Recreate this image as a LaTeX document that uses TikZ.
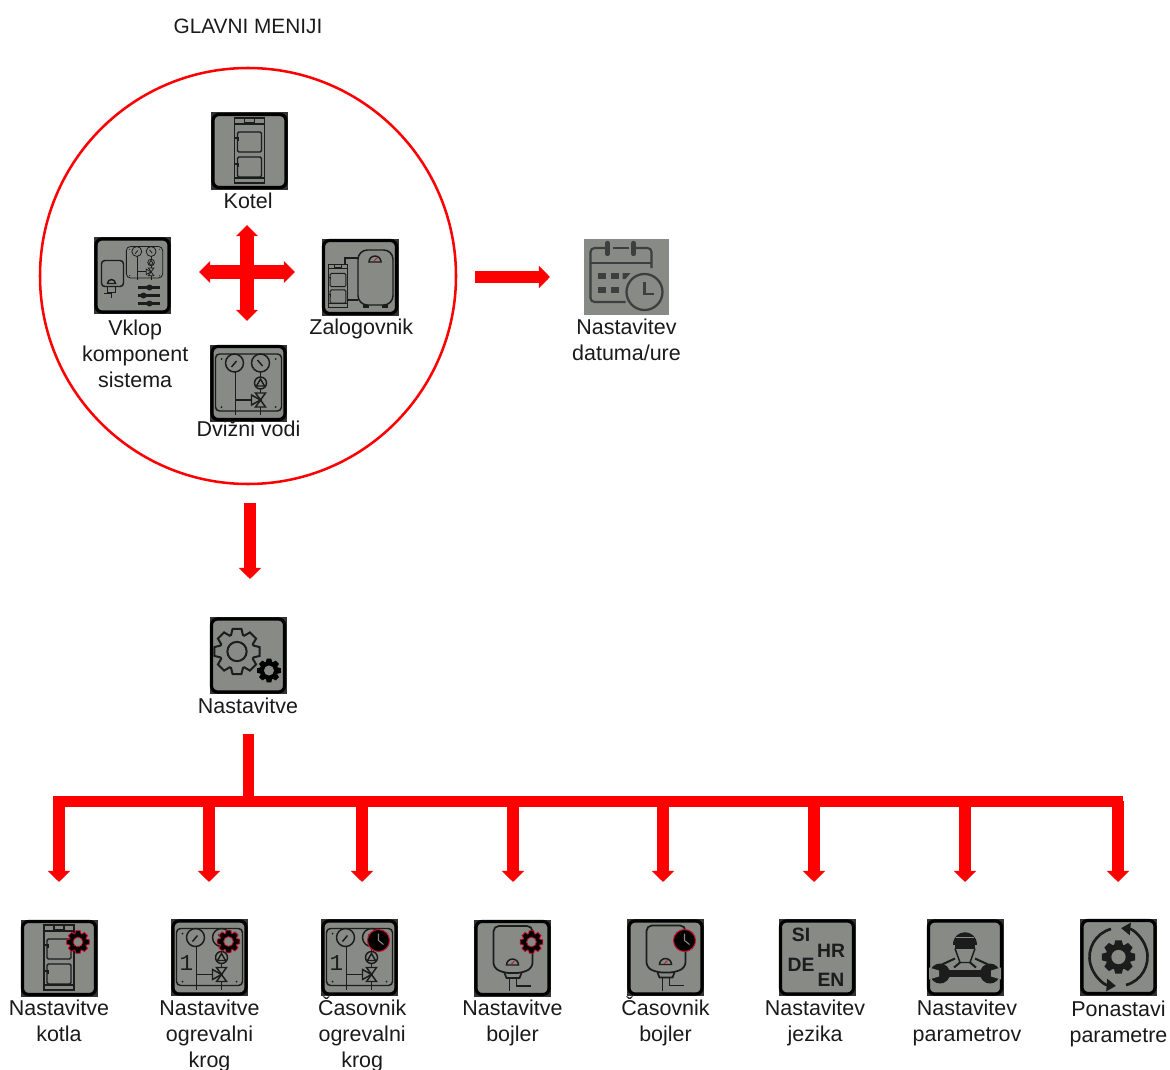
\documentclass[tikz,border=0pt]{standalone}
\usepackage{fontspec}
\setmainfont{Liberation Sans}
\setmonofont{Liberation Mono}
\usepackage{xcolor}
\usepackage{tikz}
\usetikzlibrary{arrows.meta, positioning}
\definecolor{icongrey}{HTML}{888A85}
\definecolor{icondark}{HTML}{1C1C1C}
\definecolor{iconedge}{HTML}{333333}
\definecolor{menured}{HTML}{FF0000}
\definecolor{badgered}{HTML}{C8102E}
\definecolor{lbltext}{HTML}{1A1A1A}
\tikzset{
    iconbox/.style={rectangle, fill=iconedge, minimum size=57.75pt, inner sep=0pt,
      path picture={\draw[draw=black, fill=icongrey, line width=2.4pt, rounded corners=4.5pt]
        ([shift={(1.5pt,1.5pt)}]path picture bounding box.south west) rectangle
        ([shift={(-1.5pt,-1.5pt)}]path picture bounding box.north east);}},
    calbox/.style={rectangle, fill=icongrey, minimum width=63.75pt, minimum height=57pt, inner sep=0pt},
    lbl/.style={align=center, inner sep=0pt, text=lbltext, font=\fontsize{16.1}{19.5}\selectfont, text height=12.4pt},
    lbltwo/.style={lbl, text height=31.9pt},
    lblthree/.style={lbl, text height=51.4pt},
    codetxt/.style={inner sep=0pt, text=icondark, font=\fontsize{14.5}{15}\selectfont\bfseries},
    iconline/.style={draw=icondark},
    blockarrow/.style={draw=menured, line width=8.6pt, -{Triangle[width=16.5pt, length=8.4pt]}},
    crossarrow/.style={draw=menured, line width=10pt, {Triangle[width=16pt, length=8.4pt]}-{Triangle[width=16pt, length=8.4pt]}},
    pics/kotelart/.style={code={
      \draw[iconline] (-15,-33) rectangle (15,32);
      \draw[iconline] (-5,-33) rectangle (5,-28);
      \draw[iconline] (-15,-27) -- (15,-27);
      \draw[iconline] (-15,27) -- (15,27);
      \draw[iconline, rounded corners=1pt] (-12,-19) rectangle (12,1);
      \draw[iconline, rounded corners=1pt] (-12,6) rectangle (12,26);
      \draw[iconline] (-15,-13) -- (-11,-13) -- (-11,-10);
      \draw[iconline] (-15,13) -- (-11,13) -- (-11,16);
    }},
    pics/manifoldart/.style={code={
      \draw[iconline, rounded corners=3pt] (-33,-29) rectangle (33,28);
      \draw[iconline] (-14,-20) circle (9);
      \draw[iconline] (12,-20) circle (9);
      \draw[iconline] (-17,-16) -- (-12,-22);
      \draw[iconline] (9,-23) -- (14,-17);
      \draw[iconline] (-13,-11) -- (-13,32);
      \draw[iconline] (12,-11) -- (12,-6);
      \draw[iconline] (12,0) circle (6);
      \draw[iconline] (12,-4) -- (16,3) -- (8,3) -- cycle;
      \draw[iconline] (12,6) -- (12,10);
      \draw[iconline] (7,10) -- (17,10) -- (7,24) -- (17,24) -- cycle;
      \draw[iconline] (12,17) -- (3,12) -- (3,22) -- cycle;
      \draw[iconline] (-13,17) -- (3,17);
      \draw[iconline] (12,24) -- (12,32);
      \fill[icondark] (-27,-24) circle (1);
      \fill[icondark] (27,-24) circle (1);
      \fill[icondark] (-27,24) circle (1);
      \fill[icondark] (27,24) circle (1);
    }},
    pics/gearart/.style={code={
      \path[pic actions] (-20:.76) \foreach \a in {0,45,...,315} {
        -- ({\a-20}:.76) -- ({\a-11}:1) -- ({\a+11}:1) -- ({\a+20}:.76)} -- cycle;
      \path[pic actions, fill=icongrey] (0,0) circle (.42);
    }},
    pics/gearbadge/.style={code={
      \pic[scale=11.5, draw=badgered, fill=black, line width=.6pt] at (19,-16) {gearart};
    }},
    pics/clockbadge/.style={code={
      \draw[draw=badgered, fill=black, line width=.8pt] (19,-17) circle (11);
      \draw[draw=icongrey, line width=.8pt] (19,-24) -- (19,-17) -- (24,-13);
    }},
    pics/tankart/.style={code={
      \draw[iconline, rounded corners=4pt, line width=1.3pt] (-19,-32) -- (20,-32) -- (20,10) -- (9,15) -- (-8,15) -- (-19,10) -- cycle;
      \draw[iconline] (-6,7) arc[start angle=180, end angle=360, radius=6] -- cycle;
      \draw[draw=badgered, line width=.7pt] (-1,6) -- (2,3);
      \draw[iconline, line width=1.3pt] (-8,15) -- (-6,20) -- (7,20) -- (9,15);
      \draw[iconline, line width=1.3pt] (-3,20) -- (-3,33);
      \draw[iconline, line width=1.3pt] (4,20) -- (4,28) -- (18,28);
    }},
    pics/vklopart/.style={code={
      \pic[scale=.55, line width=.6pt] at (12,-13) {manifoldart};
      \draw[iconline, rounded corners=2.5pt] (-31,-15) rectangle (-9,11);
      \draw[iconline] (-25,8) arc[start angle=180, end angle=360, radius=4] -- cycle;
      \draw[iconline] (-25,11) -- (-25,17) -- (-17,17) -- (-17,11);
      \draw[iconline] (-29,18) -- (-21,18) -- (-21,22);
      \draw[draw=icondark, line width=1.8pt] (5,12) -- (27,12);
      \draw[draw=icondark, line width=1.8pt] (5,20) -- (27,20);
      \draw[draw=icondark, line width=1.8pt] (5,28) -- (27,28);
      \fill[icondark] (17,12) circle (3);
      \fill[icondark] (11,20) circle (3);
      \fill[icondark] (17,28) circle (3);
    }},
    pics/zalogart/.style={code={
      \pic[scale=.66, line width=.7pt] at (-22,9) {kotelart};
      \draw[iconline, rounded corners=7pt] (-2,28) -- (-2,-27) -- (33,-27) -- (33,28) -- cycle;
      \draw[iconline] (9,-15) arc[start angle=180, end angle=360, radius=6] -- cycle;
      \draw[draw=badgered, line width=.6pt] (14,-16) -- (17,-19);
      \draw[iconline] (-15,-13) -- (-15,-19) -- (-2,-19);
      \draw[iconline] (-12,23) -- (-2,23);
      \fill[icondark] (3,28) rectangle (9,31);
      \fill[icondark] (22,28) rectangle (28,31);
    }},
    pics/jezikart/.style={code={
      \node[codetxt] (codesi) at (-16,-23) {SI};
      \node[codetxt] (codehr) at (14,-7) {HR};
      \node[codetxt] (codede) at (-16,7) {DE};
      \node[codetxt] (codeen) at (14,22) {EN};
    }},
    pics/mehanikart/.style={code={
      \fill[icondark] (-12,-13) .. controls (-12,-30) and (12,-30) .. (12,-13) -- cycle;
      \draw[draw=icongrey, line width=.9pt] (-9,-20) -- (9,-20);
      \draw[draw=icondark, line width=3pt] (-10,-11) -- (10,-11);
      \draw[iconline] (-10,-9) -- (-5,5) -- (5,5) -- (10,-9);
      \draw[iconline, line width=1.5pt] (-23,7) -- (-10,1);
      \draw[iconline, line width=1.5pt] (23,7) -- (10,1);
      \draw[iconline, line width=1.5pt] (-11,10) -- (-5,5);
      \draw[iconline, line width=1.5pt] (11,10) -- (5,5);
      \draw[draw=icondark, line width=5.2pt] (-24,16) -- (24,16);
      \fill[icondark] (-25,16) circle (10);
      \fill[icondark] (25,16) circle (10);
      \fill[icongrey] (-36,10) -- (-26,13) -- (-26,19) -- (-36,22) -- cycle;
      \fill[icongrey] (36,10) -- (26,13) -- (26,19) -- (36,22) -- cycle;
    }},
    pics/resetart/.style={code={
      \pic[scale=17, fill=icondark] {gearart};
      \draw[draw=icondark, line width=2pt, -{Triangle[width=9pt, length=7pt]}] (0,0) ++(255:29) arc[start angle=255, end angle=95, radius=29];
      \draw[draw=icondark, line width=2pt, -{Triangle[width=9pt, length=7pt]}] (0,0) ++(75:29) arc[start angle=75, end angle=-85, radius=29];
    }},
    pics/koledarart/.style={code={
      \draw[draw=icondark!85, line width=1.6pt, rounded corners=3pt] (-1,25) -- (-36,25) -- (-36,-29) -- (25,-29) -- (25,-9);
      \draw[draw=icondark!85, line width=1.6pt] (-36,-14) -- (25,-14);
      \draw[draw=icongrey, line width=3pt] (-19,-29) -- (7,-29);
      \draw[draw=icondark!85, line width=1.6pt] (-14,-29) -- (2,-29);
      \draw[draw=icondark!85, line width=3.2pt, line cap=round] (-19,-34) -- (-19,-23);
      \draw[draw=icondark!85, line width=3.2pt, line cap=round] (7,-34) -- (7,-23);
      \fill[icondark!85] (-29,-4) rectangle (-21,2);
      \fill[icondark!85] (-16,-4) rectangle (-8,2);
      \fill[icondark!85] (-4,-4) -- (4,-4) -- (-1,2) -- (-4,2) -- cycle;
      \fill[icondark!85] (-29,10) rectangle (-21,16);
      \fill[icondark!85] (-16,10) rectangle (-8,16);
      \draw[draw=icondark!85, line width=1.7pt, fill=icongrey] (18,15) circle (18);
      \draw[draw=icondark!85, line width=1.8pt] (18,5) -- (18,17) -- (27,17);
    }}
}
\begin{document}
\begin{tikzpicture}[x=0.75pt, y=-0.75pt, line width=1.1pt]
  \useasboundingbox (0,0) rectangle (1170,1070);
  \node[lbl, font=\fontsize{15.6}{19.5}\selectfont] (naslov) at (248,25.5) {GLAVNI MENIJI};
  \node[circle, draw=menured, line width=1.9pt, minimum size=312pt, inner sep=0pt] (menikrog) at (248,276) {};
  \node[iconbox] (koteliko) at (249.5,151) {};
  \pic at (koteliko) {kotelart};
  \node[lbl, below=1pt of koteliko, xshift=-1pt] (kotellbl) {Kotel};
  \node[iconbox] (vklopiko) at (132.5,275.5) {};
  \pic at (vklopiko) {vklopart};
  \node[lblthree, below=2.5pt of vklopiko, xshift=2pt] (vkloplbl) {Vklop\\komponent\\sistema};
  \node[iconbox] (zalogiko) at (360,277) {};
  \pic at (zalogiko) {zalogart};
  \node[lbl, below=1pt of zalogiko, xshift=1pt] (zaloglbl) {Zalogovnik};
  \node[iconbox] (dvizniiko) at (248.5,383) {};
  \pic at (dvizniiko) {manifoldart};
  \node[lbl, below=-2.5pt of dvizniiko] (dviznilbl) {Dvižni vodi};
  \node[calbox] (koledariko) at (626.5,277) {};
  \pic at (koledariko) {koledarart};
  \node[lbltwo, below=1pt of koledariko] (koledarlbl) {Nastavitev\\datuma/ure};
  \node[iconbox] (nastaviko) at (248,655.5) {};
  \pic[scale=23, draw=icondark, line width=1.5pt] at ([shift={(-11,-4)}]nastaviko) {gearart};
  \pic[scale=12, fill=black] at ([shift={(21,15)}]nastaviko) {gearart};
  \node[lbl, below=1pt of nastaviko] (nastavlbl) {Nastavitve};
  % spodnja vrsta
  \node[iconbox] (kotlaiko) at (59,958) {};
  \pic at (kotlaiko) {kotelart};
  \pic at (kotlaiko) {gearbadge};
  \node[lbltwo, below=1pt of kotlaiko] (kotlalbl) {Nastavitve\\kotla};
  \node[iconbox] (krogiko) at (209.5,957.5) {};
  \pic at (krogiko) {manifoldart};
  \node[font=\fontsize{17}{17}\selectfont\ttfamily, inner sep=0pt, text=icondark] (krogena) at ([shift={(-23,6)}]krogiko) {1};
  \pic at (krogiko) {gearbadge};
  \node[lblthree, below=1pt of krogiko] (kroglbl) {Nastavitve\\ogrevalni\\krog};
  \node[iconbox] (urakrogiko) at (359.5,957.5) {};
  \pic at (urakrogiko) {manifoldart};
  \node[font=\fontsize{17}{17}\selectfont\ttfamily, inner sep=0pt, text=icondark] (urakrogena) at ([shift={(-23,6)}]urakrogiko) {1};
  \pic at (urakrogiko) {clockbadge};
  \node[lblthree, below=1pt of urakrogiko, xshift=2pt] (urakroglbl) {Časovnik\\ogrevalni\\krog};
  \node[iconbox] (bojleriko) at (512.5,958) {};
  \pic at (bojleriko) {tankart};
  \pic at (bojleriko) {gearbadge};
  \node[lbltwo, below=1pt of bojleriko] (bojlerlbl) {Nastavitve\\bojler};
  \node[iconbox] (urabojleriko) at (665.5,957.5) {};
  \pic at (urabojleriko) {tankart};
  \pic at (urabojleriko) {clockbadge};
  \node[lbltwo, below=1pt of urabojleriko] (urabojlerlbl) {Časovnik\\bojler};
  \node[iconbox] (jezikiko) at (817,957.5) {};
  \pic at (jezikiko) {jezikart};
  \node[lbltwo, below=1pt of jezikiko, xshift=-1.5pt] (jeziklbl) {Nastavitev\\jezika};
  \node[iconbox] (paramiko) at (965,957.5) {};
  \pic at (paramiko) {mehanikart};
  \node[lbltwo, below=1pt of paramiko, xshift=1.5pt] (paramlbl) {Nastavitev\\parametrov};
  \node[iconbox] (resetiko) at (1118.5,957) {};
  \pic at (resetiko) {resetart};
  \node[lbltwo, below=2pt of resetiko] (resetlbl) {Ponastavi\\parametre};
  % puscice
  \coordinate (krizgor) at (247,225);
  \coordinate (krizdol) at (247,321);
  \coordinate (krizlevo) at (199,272);
  \coordinate (krizdesno) at (295,272);
  \coordinate (desnozac) at (475,277);
  \coordinate (desnokon) at (550,277);
  \coordinate (dolzac) at (250,503);
  \coordinate (dolkon) at (250,579);
  \coordinate (deblozac) at (248,734);
  \coordinate (bussred) at (248,806);
  \coordinate (buslevo) at (53,801);
  \coordinate (busdesno) at (1123,801);
  \coordinate (vrh1) at (59,882);
  \coordinate (vrh2) at (209,882);
  \coordinate (vrh3) at (362,882);
  \coordinate (vrh4) at (513,882);
  \coordinate (vrh5) at (663,882);
  \coordinate (vrh6) at (814,882);
  \coordinate (vrh7) at (965,882);
  \coordinate (vrh8) at (1118,882);
  \draw[crossarrow] (krizgor) -- (krizdol);
  \draw[crossarrow] (krizlevo) -- (krizdesno);
  \draw[blockarrow] (desnozac) -- (desnokon);
  \draw[blockarrow] (dolzac) -- (dolkon);
  \draw[draw=menured, line width=8.25pt] (deblozac) -- (bussred);
  \draw[draw=menured, line width=8.25pt] (buslevo) -- (busdesno);
  \draw[blockarrow] (vrh1 |- buslevo) -- (vrh1);
  \draw[blockarrow] (vrh2 |- buslevo) -- (vrh2);
  \draw[blockarrow] (vrh3 |- buslevo) -- (vrh3);
  \draw[blockarrow] (vrh4 |- buslevo) -- (vrh4);
  \draw[blockarrow] (vrh5 |- buslevo) -- (vrh5);
  \draw[blockarrow] (vrh6 |- buslevo) -- (vrh6);
  \draw[blockarrow] (vrh7 |- buslevo) -- (vrh7);
  \draw[blockarrow] (vrh8 |- buslevo) -- (vrh8);
\end{tikzpicture}
\end{document}
